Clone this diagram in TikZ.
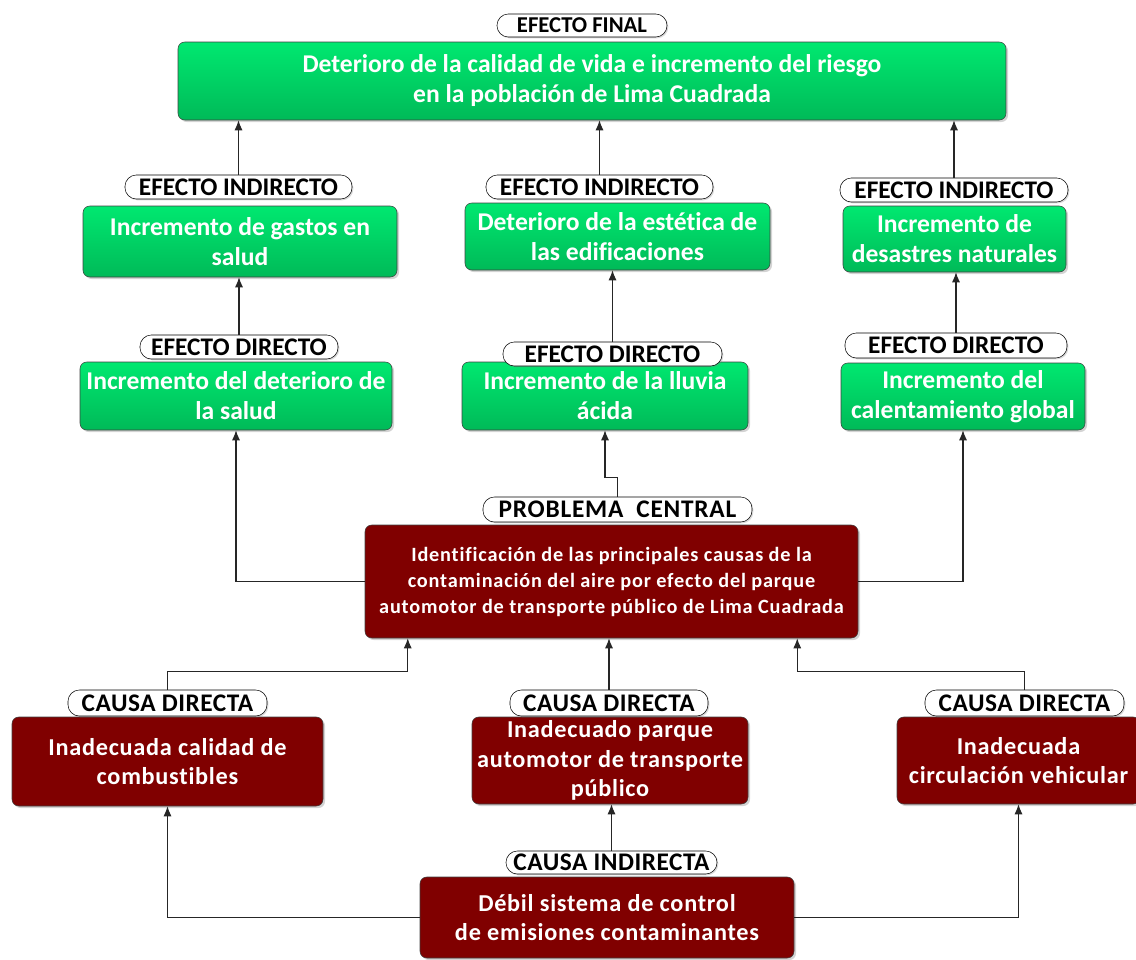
\documentclass[tikz,border=0pt]{standalone}
\usepackage{fontspec}
\setmainfont{Carlito}[Ligatures=NoCommon]
\usetikzlibrary{shadows,arrows.meta,calc}

\definecolor{verdeA}{RGB}{0,232,112}
\definecolor{verdeB}{RGB}{0,186,88}
\definecolor{guinda}{RGB}{128,0,0}

\begin{document}
\begin{tikzpicture}[x=0.75pt, y=-0.75pt,
    wh/.style 2 args={minimum width=#1*0.75pt, minimum height=#2*0.75pt},
    efecto/.style={draw=black!75, rounded corners=5pt, top color=verdeA, bottom color=verdeB,
      text=white, align=center, inner sep=1pt,
      drop shadow={shadow xshift=1.5pt, shadow yshift=-1.5pt, opacity=0.35},
      font=\bfseries\fontsize{19.2}{22.5}\selectfont},
    causa/.style={draw=black!75, rounded corners=5pt, fill=guinda, text=white, align=center,
      inner sep=1pt, drop shadow={shadow xshift=1.5pt, shadow yshift=-1.5pt, opacity=0.35},
      font=\bfseries\fontsize{18.2}{22}\selectfont\addfontfeature{LetterSpace=3}},
    etiqueta/.style={draw=black, fill=white, rounded corners=8.5pt, inner sep=0pt,
      drop shadow={shadow xshift=1pt, shadow yshift=-1pt, opacity=0.3},
      font=\bfseries\fontsize{19}{20}\selectfont},
    flecha/.style={-{Latex[length=7.5pt,width=6pt]}, black!85, line width=0.8pt}]
  \useasboundingbox (0,0) rectangle (1136,960);

  % efecto final
  \node[efecto, wh={828}{78}] (final) at (592,81)
    {Deterioro de la calidad de vida e incremento del riesgo\\en la población de Lima Cuadrada};
  \node[etiqueta, wh={170}{23}, font=\bfseries\fontsize{17}{18}\selectfont] (lbl-final) at (582,25.5) {EFECTO FINAL};

  % efectos indirectos
  \node[efecto, wh={314}{71}] (ei1) at (240,241.5) {Incremento de gastos en\\salud};
  \node[etiqueta, wh={227}{24}] (lbl-ei1) at (238.5,187) {EFECTO INDIRECTO};
  \node[efecto, wh={305}{67}] (ei2) at (617.5,236.5) {Deterioro de la estética de\\las edificaciones};
  \node[etiqueta, wh={227}{24}] (lbl-ei2) at (599.5,187) {EFECTO INDIRECTO};
  \node[efecto, wh={223}{66}] (ei3) at (954.5,239) {Incremento de\\desastres naturales};
  \node[etiqueta, wh={228}{24}] (lbl-ei3) at (954,190) {EFECTO INDIRECTO};

  % efectos directos
  \node[efecto, wh={312}{68}] (ed1) at (236,396) {Incremento del deterioro de\\la salud};
  \node[etiqueta, wh={198}{24}] (lbl-ed1) at (239,347) {EFECTO DIRECTO};
  \node[efecto, wh={286}{68}] (ed2) at (605,396) {Incremento de la lluvia\\ácida};
  \node[etiqueta, wh={219}{24}] (lbl-ed2) at (612.5,354) {EFECTO DIRECTO};
  \node[efecto, wh={244}{67}] (ed3) at (963,396.5) {Incremento del\\calentamiento global};
  \node[etiqueta, wh={222}{25}] (lbl-ed3) at (956,345.5) {EFECTO DIRECTO};

  % problema central
  \node[causa, wh={493}{113}, font=\bfseries\fontsize{15.2}{19.5}\selectfont\addfontfeature{LetterSpace=4}] (central) at (611.5,581.5)
    {Identificación de las principales causas de la\\contaminación del aire por efecto del parque\\automotor de transporte público de Lima Cuadrada};
  \node[etiqueta, wh={269}{25}] (lbl-cen) at (617.5,509.5) {\addfontfeature{LetterSpace=3}PROBLEMA\ \ CENTRAL};

  % causas directas
  \node[causa, wh={311}{89}] (cd1) at (167.5,761.5) {Inadecuada calidad de\\combustibles};
  \node[etiqueta, wh={199}{26}] (lbl-cd1) at (167.5,703) {\addfontfeature{LetterSpace=2}CAUSA DIRECTA};
  \node[causa, wh={276}{87}] (cd2) at (610,760.5) {Inadecuado parque\\automotor de transporte\\público};
  \node[etiqueta, wh={198}{26}] (lbl-cd2) at (609,703) {\addfontfeature{LetterSpace=2}CAUSA DIRECTA};
  \node[causa, wh={243}{87}] (cd3) at (1018.5,760.5) {Inadecuada\\circulación vehicular};
  \node[etiqueta, wh={199}{26}] (lbl-cd3) at (1024.5,703) {\addfontfeature{LetterSpace=2}CAUSA DIRECTA};

  % causa indirecta
  \node[causa, wh={374}{81}] (ci) at (607,917.5) {Débil sistema de control\\de emisiones contaminantes};
  \node[etiqueta, wh={211}{23}] (lbl-ci) at (611.5,862.5) {\addfontfeature{LetterSpace=2}CAUSA INDIRECTA};

  % conectores
  \draw[flecha] (lbl-ei1.north) -- (final.south -| lbl-ei1.north);
  \draw[flecha] (lbl-ei2.north) -- (final.south -| lbl-ei2.north);
  \draw[flecha] (lbl-ei3.north) -- (final.south -| lbl-ei3.north);
  \draw[flecha] (lbl-ed1.north) -- (lbl-ed1.north |- ei1.south);
  \draw[flecha] (lbl-ed2.north) -- (lbl-ed2.north |- ei2.south);
  \draw[flecha] (lbl-ed3.north) -- (lbl-ed3.north |- ei3.south);
  \draw[flecha] (central.west) -| (ed1.south);
  \draw[flecha] (central.east) -| (ed3.south);
  \draw[flecha] (lbl-cen.north) -- ++(0,-19) -| (ed2.south);
  \draw[flecha] (lbl-cd1.north) -- ++(0,-18) -| ($(central.south west)+(43,0)$);
  \draw[flecha] (lbl-cd2.north) -- (lbl-cd2.north |- central.south);
  \draw[flecha] (lbl-cd3.north) -- ++(0,-18) -| ($(central.south east)+(-61,0)$);
  \draw[flecha] (lbl-ci.north) -- (lbl-ci.north |- cd2.south);
  \draw[flecha] (ci.west) -| (cd1.south);
  \draw[flecha] (ci.east) -| (cd3.south);
\end{tikzpicture}
\end{document}
